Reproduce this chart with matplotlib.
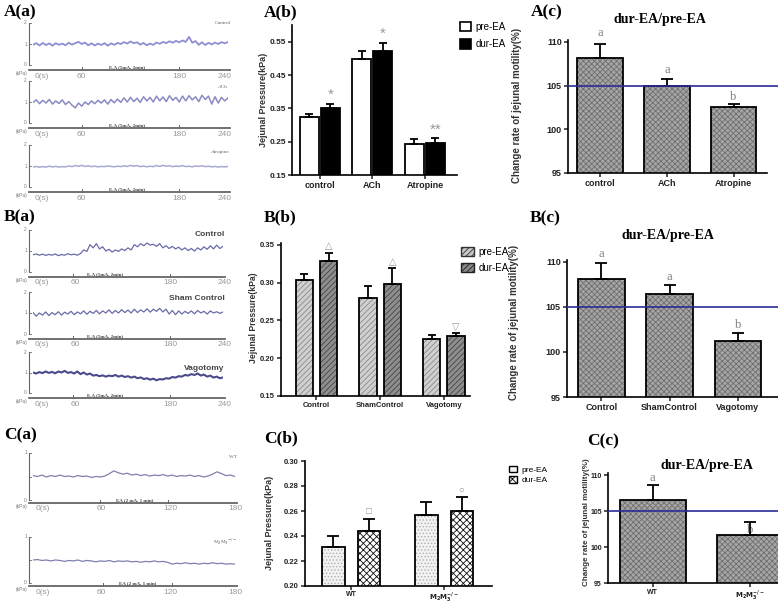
import numpy as np
import matplotlib.pyplot as plt
from matplotlib.patches import Patch

plt.rcParams['font.family'] = ['Liberation Sans', 'DejaVu Sans']
plt.rcParams['hatch.linewidth'] = 0.6
SERIF = 'Liberation Serif'
W, H = 778, 603

# ---- recordings (kPa) ----
a_control = [0.96, 1.04, 0.93, 1.05, 0.95, 1.03, 0.92, 1.04, 0.96, 1.02, 0.94, 1.06, 0.97, 1.04, 1.1, 1.0,
             1.07, 0.94, 1.03, 0.93, 1.02, 0.95, 1.04, 0.92, 1.03, 0.96, 1.05, 1.0, 1.09, 1.02, 1.12, 1.04,
             1.08, 0.97, 1.05, 0.94, 1.02, 0.96, 1.07, 1.01, 1.1, 1.04, 1.13, 1.06, 1.15, 1.08, 1.17, 1.1,
             1.34, 1.06, 1.14, 0.96, 1.08, 0.95, 1.06, 0.98, 1.07, 1.0, 1.09, 1.03, 1.1]
a_ach = [0.98, 1.1, 0.92, 1.08, 0.95, 1.12, 0.9, 1.05, 0.93, 1.1, 0.88, 1.02, 0.85, 0.72, 0.95, 0.8,
         1.0, 0.88, 1.05, 0.92, 1.08, 0.95, 1.1, 0.9, 1.12, 0.96, 1.14, 0.98, 1.2, 1.0, 1.22, 1.02,
         1.18, 0.98, 1.25, 1.05, 1.22, 1.0, 1.28, 1.06, 1.24, 1.02, 1.3, 1.08, 1.22, 1.0, 1.28, 1.05,
         1.3, 1.1, 1.25, 1.02, 1.32, 1.12, 1.28, 0.9, 1.25, 0.95, 1.22, 1.05, 1.2]
a_atropine = [0.95, 0.98, 0.94, 0.97, 0.95, 0.99, 0.96, 0.98, 0.95, 0.97, 0.96, 1.0, 0.97, 1.02, 0.99, 1.03,
              0.98, 1.01, 0.97, 0.99, 0.96, 0.98, 0.97, 1.0, 0.98, 0.96, 0.99, 0.97, 1.01, 0.98, 1.03, 0.99,
              1.02, 0.97, 1.0, 0.96, 0.99, 0.97, 1.02, 0.98, 1.03, 0.99, 1.01, 0.97, 1.0, 0.98, 1.02, 0.97,
              0.99, 0.96, 1.0, 0.98, 1.01, 0.97, 0.99, 0.96, 0.98, 0.95, 0.97, 0.96, 0.98]
b_control = [0.82, 0.86, 0.8, 0.85, 0.79, 0.84, 0.8, 0.86, 0.78, 0.83, 0.8, 0.87, 0.82, 0.85, 0.8, 0.88,
             1.05, 0.98, 1.3, 1.15, 1.35, 1.1, 1.2, 1.0, 1.08, 0.95, 1.05, 0.98, 1.1, 1.02, 1.15, 1.05,
             1.3, 1.2, 1.35, 1.25, 1.38, 1.28, 1.32, 1.22, 1.35, 1.15, 1.25, 1.12, 1.22, 1.1, 1.18, 1.05,
             1.15, 1.02, 1.12, 1.0, 1.15, 1.05, 1.2, 1.08, 1.25, 1.1, 1.28, 1.12, 1.22]
b_sham = [1.02, 0.85, 1.0, 0.9, 1.05, 0.88, 1.02, 0.92, 1.06, 0.9, 1.04, 0.95, 1.08, 0.92, 1.05, 0.96,
          1.1, 0.94, 1.08, 0.98, 1.12, 0.96, 1.1, 1.0, 1.15, 0.98, 1.12, 1.0, 1.16, 1.02, 1.14, 1.0,
          1.18, 1.02, 1.15, 1.05, 1.2, 1.04, 1.18, 1.08, 1.22, 1.05, 1.18, 0.95, 1.12, 0.92, 1.1, 0.95,
          1.08, 0.98, 1.1, 0.96, 1.12, 1.0, 1.08, 0.95, 1.1, 1.0, 1.06, 0.98, 1.05]
b_vagotomy = [1.0, 0.95, 1.02, 0.97, 1.05, 0.98, 1.03, 0.96, 1.05, 1.0, 1.08, 0.98, 1.02, 0.95, 1.05, 0.92,
              1.0, 0.9, 0.95, 0.85, 0.88, 0.82, 0.86, 0.8, 0.85, 0.82, 0.88, 0.8, 0.85, 0.78, 0.82, 0.75,
              0.8, 0.72, 0.76, 0.68, 0.72, 0.65, 0.7, 0.62, 0.68, 0.66, 0.72, 0.7, 0.78, 0.75, 0.82, 0.8,
              0.88, 0.85, 0.92, 0.88, 0.95, 0.85, 0.9, 0.8, 0.85, 0.75, 0.8, 0.72, 0.76]
c_wt = [0.52, 0.5, 0.53, 0.49, 0.52, 0.5, 0.53, 0.5, 0.51, 0.49, 0.52, 0.5, 0.51, 0.48, 0.5, 0.49,
        0.51, 0.56, 0.62, 0.58, 0.55, 0.57, 0.53, 0.55, 0.52, 0.54, 0.51, 0.53, 0.52, 0.54, 0.51, 0.53,
        0.5, 0.52, 0.51, 0.53, 0.5, 0.52, 0.49, 0.51, 0.55, 0.6, 0.56, 0.52, 0.53, 0.5]
c_m2m3 = [0.5, 0.51, 0.49, 0.5, 0.48, 0.5, 0.49, 0.47, 0.49, 0.48, 0.5, 0.47, 0.49, 0.48, 0.46, 0.48,
          0.47, 0.49, 0.46, 0.48, 0.47, 0.48, 0.46, 0.47, 0.45, 0.47, 0.46, 0.48, 0.46, 0.47, 0.45, 0.41,
          0.43, 0.42, 0.44, 0.42, 0.43, 0.41, 0.43, 0.42, 0.44, 0.42, 0.43, 0.41, 0.42, 0.41]

# ---- bar data ----
a_groups = ['control', 'ACh', 'Atropine']
a_pre = [0.325, 0.497, 0.242]
a_pre_err = [0.008, 0.024, 0.016]
a_dur = [0.350, 0.521, 0.247]
a_dur_err = [0.013, 0.026, 0.013]
a_sig = ['*', '*', '**']
a_rate = [108.1, 105.0, 102.5]
a_rate_err = [1.7, 0.7, 0.35]
a_letters = ['a', 'a', 'b']

b_groups = ['Control', 'ShamControl', 'Vagotomy']
b_pre = [0.304, 0.280, 0.226]
b_pre_err = [0.007, 0.016, 0.005]
b_dur = [0.329, 0.298, 0.229]
b_dur_err = [0.011, 0.021, 0.004]
b_sig = ['\u25b3', '\u25b3', '\u25bd']
b_rate = [108.1, 106.4, 101.2]
b_rate_err = [1.75, 1.05, 0.95]
b_letters = ['a', 'a', 'b']

c_groups = ['WT', r'$\mathbf{M_2M_3^{-/-}}$']
c_pre = [0.231, 0.257]
c_pre_err = [0.009, 0.010]
c_dur = [0.244, 0.260]
c_dur_err = [0.010, 0.011]
c_sig = ['\u25a1', '\u25cb']
c_rate = [106.5, 101.6]
c_rate_err = [2.1, 1.9]
c_letters = ['a', 'b']

fig = plt.figure(figsize=(W / 100, H / 100), dpi=100)


def add_ax(x0, y0, x1, y1):
    return fig.add_axes([x0 / W, 1 - y1 / H, (x1 - x0) / W, (y1 - y0) / H])


def ftext(x, y, s, **kw):
    fig.text(x / W, 1 - y / H, s, **kw)


def trace(vals, box, tmax, vmax, vticks, name, name_pos, name_kw, ea_ticks, ea_text, ea_t,
          tlabels, color, lw=0.8, gap=5):
    x0, x1, ytop, ybot = box
    ax = add_ax(x0, ytop, x1, ybot)
    ax.set_xlim(0, tmax)
    ax.set_ylim(0, vmax)
    ax.axis('off')
    ax.plot(np.linspace(0, tmax, len(vals)), vals, color=color, lw=lw)
    sx = tmax / (x1 - x0)
    sy = vmax / (ybot - ytop)
    k = dict(color='#666666', clip_on=False)
    xb = -4 * sx
    ax.plot([xb, xb], [0, vmax], lw=0.8, **k)
    for v, s in vticks:
        ax.plot([xb, xb + 2 * sx], [v, v], lw=0.6, **k)
        if s:
            ax.text(xb - 2 * sx, v, s, fontsize=3.5, ha='right', va='center', color='#777777')
    base = -gap * sy
    ax.plot([xb, tmax + 2 * sx], [base, base], lw=1.3, **k)
    for e in ea_ticks:
        ax.plot([e, e], [base, base + 3 * sy], lw=0.7, **k)
    ax.text(ea_t, base + 0.6 * sy, ea_text, fontsize=3.6, fontweight='bold', family=SERIF,
            ha='center', va='bottom', color='#444444')
    for tt, s in tlabels:
        ha = 'left' if s == '0(s)' else 'center'
        ax.text(tt, base - 6 * sy, s, fontsize=6, ha=ha, va='center', color='#999999')
    ax.text(xb - 2 * sx, base - 1 * sy, '(kPa)', fontsize=3.5, ha='right', va='top', color='#777777')
    ax.text(name_pos[0], name_pos[1], name, ha='right', va='center', **name_kw)


tiny = dict(fontsize=3.8, family=SERIF, color='#666666')
boldname = dict(fontsize=6, fontweight='bold', color='#444444')
tl_a = [(2, '0(s)'), (60, '60'), (180, '180'), (236, '240')]
tl_b = [(2, '0(s)'), (54, '60'), (173, '180'), (242, '240')]
tl_c = [(2, '0(s)'), (61, '60'), (122, '120'), (180, '180')]
vt2 = [(0, '0'), (1, '1'), (2, '2')]
vt1 = [(0, '0'), (0.5, ''), (1, '1')]
ea5 = 'E.A (5mA, 2min)'
ea2 = 'EA (2 mA, 1 min)'

trace(a_control, (33, 228, 23, 65), 240, 2, vt2, 'Control', (244, 2.0), tiny, [60, 180], ea5, 116, tl_a,
      '#8e8ed4', lw=1.3)
trace(a_ach, (33, 228, 81, 123), 240, 2, vt2, 'ACh', (240, 1.7), tiny, [60, 180], ea5, 116, tl_a,
      '#8a8ac4', lw=1.1)
trace(a_atropine, (33, 228, 145, 187), 240, 2, vt2, 'Atropine', (242, 1.67), tiny, [60, 180], ea5, 116, tl_a,
      '#a8a8d4', lw=1.1)
trace(b_control, (33, 223, 230, 272), 240, 2, vt2, 'Control', (242, 1.8), boldname, [50, 173], ea5, 91, tl_b,
      '#6a6aa8', lw=0.9)
trace(b_sham, (33, 223, 292, 334), 240, 2, vt2, 'Sham Control', (242, 1.67), boldname, [50, 173], ea5, 91, tl_b,
      '#6a6aa8', lw=0.9)
trace(b_vagotomy, (33, 223, 352, 393), 240, 2, vt2, 'Vagotomy', (242, 1.2), boldname, [50, 173], ea5, 91, tl_b,
      '#4a4a8c', lw=1.5)
trace(c_wt, (33, 235, 453, 500), 180, 1, vt1, 'WT', (182, 0.91), tiny, [60, 120], ea2, 91, tl_c, '#8080b0',
      lw=0.9, gap=3)
trace(c_m2m3, (33, 235, 537, 583), 180, 1, vt1, r'M$_2$M$_3$$^{-/-}$', (182, 0.89), tiny, [62, 124], ea2, 93,
      tl_c, '#8080b0', lw=0.9, gap=3)


def setup(ax, xlim, ylim, yticks, ylabels, cats, fs=6.5):
    ax.set_xlim(*xlim)
    ax.set_ylim(*ylim)
    ax.spines[['top', 'right']].set_visible(False)
    for s in ['left', 'bottom']:
        ax.spines[s].set_linewidth(1.2)
    ax.set_yticks(yticks, ylabels)
    ax.set_xticks(range(len(cats)), cats)
    ax.tick_params(length=3, width=1.1, labelsize=fs, pad=1.5, colors='#222222')
    for lb in ax.get_xticklabels() + ax.get_yticklabels():
        lb.set_fontweight('bold')


def bars(ax, x, h, w, face, hatch=None, hcolor='#555555'):
    if hatch:
        ax.bar(x, h, w, color=face, edgecolor=hcolor, hatch=hatch, lw=0)
        ax.bar(x, h, w, fill=False, edgecolor='black', lw=1.3)
    else:
        ax.bar(x, h, w, color=face, edgecolor='black', lw=1.3)


def errs(ax, x, h, e, cap=3):
    ax.errorbar(x, h, yerr=[np.zeros(len(e)), e], fmt='none', ecolor='black', elinewidth=1.3,
                capsize=cap, capthick=1.3)


def rate_panel(box, xlim, ylim, vals, err, letters, cats, title_xy, fs=6.5, lw_line=1.2, lpad=None):
    ax = add_ax(*box)
    x = np.arange(len(vals))
    setup(ax, xlim, ylim, [95, 100, 105, 110], ['95', '100', '105', '110'], cats, fs)
    bars(ax, x, vals, 0.68, '#a6a6a6', hatch='xxxxxx', hcolor='#6e6e6e')
    errs(ax, x, vals, err, cap=4)
    ax.plot([xlim[0], xlim[1] + 0.2], [105, 105], color='#2a2a9a', lw=lw_line, clip_on=False, zorder=5)
    for i, s in enumerate(letters):
        p = lpad[i] if lpad else 0.4
        ax.text(i, vals[i] + err[i] + p, s, family=SERIF, fontsize=9, color='#808080', ha='center', va='bottom',
                zorder=1.5)
    ftext(title_xy[0], title_xy[1], 'dur-EA/pre-EA', family=SERIF, fontweight='bold', fontsize=10,
          ha='center', va='center')
    return ax


# ---- A(b) ----
ax = add_ax(292, 25, 457, 175)
x = np.arange(3)
setup(ax, (-0.53, 2.61), (0.15, 0.6), [0.15, 0.25, 0.35, 0.45, 0.55],
      ['0.15', '0.25', '0.35', '0.45', '0.55'], a_groups, fs=6)
ax.tick_params(axis='x', labelsize=6.5)
bars(ax, x - 0.2, a_pre, 0.36, 'white')
bars(ax, x + 0.2, a_dur, 0.36, 'black')
errs(ax, x - 0.2, a_pre, a_pre_err)
errs(ax, x + 0.2, a_dur, a_dur_err)
for i, s in enumerate(a_sig):
    ax.text(i + 0.2, a_dur[i] + a_dur_err[i] + 0.006, s, fontsize=11, color='#999999', ha='center', va='bottom')
ax.legend(handles=[Patch(facecolor='white', edgecolor='black', lw=1.2, label='pre-EA'),
                   Patch(facecolor='black', edgecolor='black', lw=1.2, label='dur-EA')],
          loc='upper left', bbox_to_anchor=(460 / W, 1 - 22 / H), bbox_transform=fig.transFigure,
          frameon=False, fontsize=7, handlelength=1.1, handleheight=1.1, handletextpad=0.5,
          labelspacing=0.75, borderaxespad=0, borderpad=0)
ftext(263, 100, 'Jejunal Pressure(kPa)', rotation=90, fontsize=6.5, fontweight='bold', color='#333333',
      ha='center', va='center')

# ---- B(b) ----
ax = add_ax(281, 243, 470, 396)
setup(ax, (-0.557, 2.41), (0.15, 0.3526), [0.15, 0.20, 0.25, 0.30, 0.35],
      ['0.15', '0.20', '0.25', '0.30', '0.35'], b_groups, fs=5.5)
bars(ax, x - 0.19, b_pre, 0.27, '#d0d0d0', hatch='//////', hcolor='#8a8a8a')
bars(ax, x + 0.19, b_dur, 0.27, '#8e8e8e', hatch='//////', hcolor='#444444')
errs(ax, x - 0.19, b_pre, b_pre_err)
errs(ax, x + 0.19, b_dur, b_dur_err)
for i, s in enumerate(b_sig):
    ax.text(i + 0.19, b_dur[i] + b_dur_err[i] + 0.002, s, fontsize=7, color='#999999', ha='center', va='bottom')
ax.legend(handles=[Patch(facecolor='#c8c8c8', edgecolor='#333333', hatch='//////', label='pre-EA'),
                   Patch(facecolor='#888888', edgecolor='#222222', hatch='//////', label='dur-EA')],
          loc='upper left', bbox_to_anchor=(461 / W, 1 - 247 / H), bbox_transform=fig.transFigure,
          frameon=False, fontsize=7, handlelength=1.3, handleheight=1.0, handletextpad=0.5,
          labelspacing=0.6, borderaxespad=0, borderpad=0)
ftext(254, 318, 'Jejunal Pressure(kPa)', rotation=90, fontsize=6.2, fontweight='bold', color='#333333',
      ha='center', va='center')

# ---- C(b) ----
ax = add_ax(305, 461, 492, 586)
x2 = np.arange(2)
setup(ax, (-0.495, 1.516), (0.20, 0.30), [0.20, 0.22, 0.24, 0.26, 0.28, 0.30],
      ['0.20', '0.22', '0.24', '0.26', '0.28', '0.30'], c_groups, fs=5.5)
ax.tick_params(axis='x', pad=0.5, labelsize=5)
bars(ax, x2 - 0.19, c_pre, 0.24, '#f2f2f2', hatch='.....', hcolor='#b0b0b0')
bars(ax, x2 + 0.19, c_dur, 0.24, 'white', hatch='xxxxx', hcolor='#111111')
errs(ax, x2 - 0.19, c_pre, c_pre_err, cap=4)
errs(ax, x2 + 0.19, c_dur, c_dur_err, cap=4)
for i, s in enumerate(c_sig):
    ax.text(i + 0.19, c_dur[i] + c_dur_err[i] + 0.002, s, fontsize=7, color='#999999', ha='center', va='bottom')
ax.legend(handles=[Patch(facecolor='#f4f4f4', edgecolor='black', label='pre-EA'),
                   Patch(facecolor='white', edgecolor='black', hatch='xxxx', label='dur-EA')],
          loc='upper left', bbox_to_anchor=(509 / W, 1 - 466 / H), bbox_transform=fig.transFigure,
          frameon=False, fontsize=6, handlelength=1.0, handleheight=0.8, handletextpad=0.5,
          labelspacing=0.25, borderaxespad=0, borderpad=0)
ftext(270, 523, 'Jejunal Pressure(kPa)', rotation=90, fontsize=6.5, fontweight='bold', color='#333333',
      ha='center', va='center')

# ---- rate panels ----
rate_panel((568, 40, 767, 173), (-0.48, 2.5), (95, 110.2), a_rate, a_rate_err, a_letters, a_groups, (660, 19),
           lpad=[0.5, 0.4, 0.1])
ftext(517, 105, 'Change rate of jejunal motility(%)', rotation=90, fontsize=7, fontweight='bold',
      color='#333333', ha='center', va='center')
rate_panel((567, 260, 778, 397), (-0.505, 2.59), (95, 110.2), b_rate, b_rate_err, b_letters, b_groups,
           (668, 235), lpad=[0.4, 0.2, 0.2])
ftext(514, 322, 'Change rate of jejunal motility(%)', rotation=90, fontsize=7, fontweight='bold',
      color='#333333', ha='center', va='center')
cax = rate_panel((608, 473, 778, 583), (-0.46, 1.29), (95, 110.28), c_rate, c_rate_err, c_letters, c_groups,
                 (707, 465), fs=5, lpad=[0.1, -2.0])
cax.tick_params(axis='x', pad=1)
ftext(586, 522, 'Change rate of jejunal motility(%)', rotation=90, fontsize=5.8, fontweight='bold',
      color='#333333', ha='center', va='center')

# ---- panel labels ----
for lab, px, py in [('A(a)', 4, 12), ('A(b)', 264, 12), ('A(c)', 531, 12),
                    ('B(a)', 4, 217), ('B(b)', 264, 217), ('B(c)', 530, 218),
                    ('C(a)', 4, 435), ('C(b)', 264, 438), ('C(c)', 587, 441)]:
    ftext(px, py, lab, family=SERIF, fontweight='bold', fontsize=12.5, ha='left', va='center')

fig.savefig('out.png', dpi=100)
